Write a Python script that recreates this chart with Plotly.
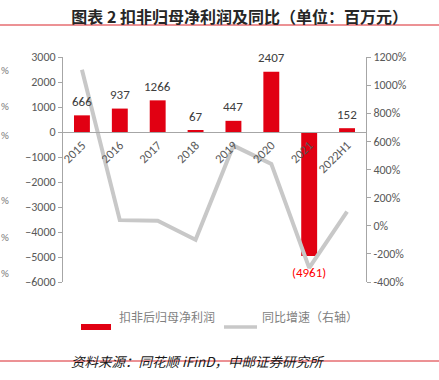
import plotly.graph_objects as go

categories = ["2015", "2016", "2017", "2018", "2019", "2020", "2021", "2022H1"]
profit = [666, 937, 1266, 67, 447, 2407, -4961, 152]
growth = [1110, 40, 35, -100, 570, 440, -300, 100]
left_ticks = [3000, 2000, 1000, 0, -1000, -2000, -3000, -4000, -5000, -6000]
right_ticks = [1200, 1000, 800, 600, 400, 200, 0, -200, -400]

W, H = 439, 380
L, R, T, B = 63, 73, 57, 98
pw, ph = W - L - R, H - T - B

def px_x(x):
    return (x - L) / pw

def px_y(y):
    return (H - B - y) / ph

FONT = "Calibri, Carlito, 'Noto Sans', 'Noto Sans CJK SC', sans-serif"
CJK = "'Noto Sans CJK SC', sans-serif"
GRAY = "#595959"
RED = "#E10012"
LINE = "#C8C8C8"

fig = go.Figure()
fig.add_trace(go.Bar(
    x=categories, y=profit, marker=dict(color=RED, line=dict(width=0)),
    width=0.42, yaxis="y", showlegend=False, hoverinfo="skip"))
fig.add_trace(go.Scatter(
    x=categories, y=growth, mode="lines", yaxis="y2",
    line=dict(color=LINE, width=4), showlegend=False, hoverinfo="skip"))

annotations = []
for i, v in enumerate(profit):
    annotations.append(dict(
        x=i, y=v, xref="x", yref="y",
        text=(f"({abs(v)})" if v < 0 else str(v)),
        showarrow=False, yshift=(-16 if v < 0 else 14),
        font=dict(family=FONT, size=13, color=("#FF0000" if v < 0 else "#404040"))))

# clipped "%" fragments at the far left edge
for yp in [62, 98, 135, 209, 246, 282]:
    annotations.append(dict(x=px_x(-1), y=px_y(yp), xref="paper", yref="paper",
                            text="%", showarrow=False, xanchor="left",
                            font=dict(family=FONT, size=11, color="#7F7F7F")))

# legend (manual)
annotations.append(dict(x=px_x(117), y=px_y(327), xref="paper", yref="paper",
                        text="扣非后归母净利润", showarrow=False, xanchor="left",
                        font=dict(family=CJK, size=12, color="#7F7F7F")))
annotations.append(dict(x=px_x(260), y=px_y(327), xref="paper", yref="paper",
                        text="同比增速（右轴）", showarrow=False, xanchor="left",
                        font=dict(family=CJK, size=12, color="#7F7F7F")))
# source
annotations.append(dict(x=px_x(198), y=px_y(373), xref="paper", yref="paper",
                        text="<i>资料来源：同花顺 iFinD，中邮证券研究所</i>", showarrow=False,
                        font=dict(family=CJK, size=13.5, color="#1A1A1A")))

shapes = [
    dict(type="line", xref="paper", yref="paper", x0=px_x(0), x1=px_x(W),
         y0=px_y(25), y1=px_y(25), line=dict(color="#D9252A", width=1)),
    dict(type="line", xref="paper", yref="paper", x0=px_x(0), x1=px_x(W),
         y0=px_y(361), y1=px_y(361), line=dict(color="#D9252A", width=1)),
    dict(type="rect", xref="paper", yref="paper", x0=px_x(81), x1=px_x(111),
         y0=px_y(330), y1=px_y(324), fillcolor=RED, line=dict(width=0)),
    dict(type="line", xref="paper", yref="paper", x0=px_x(224), x1=px_x(257),
         y0=px_y(327), y1=px_y(327), line=dict(color=LINE, width=3.5)),
]

zero_pos = (0 - left_ticks[-1]) / (left_ticks[0] - left_ticks[-1])

fig.update_layout(
    width=W, height=H,
    margin=dict(l=L, r=R, t=T, b=B, autoexpand=False),
    paper_bgcolor="white", plot_bgcolor="white",
    title=dict(text="<b>图表 2 扣非归母净利润及同比（单位：百万元）</b>",
               x=0.546, xanchor="center", y=1 - 17 / H, yanchor="middle",
               font=dict(family=CJK, size=16, color="#262626")),
    xaxis=dict(type="category", anchor="free", position=zero_pos,
               showline=True, linecolor="#A6A6A6", linewidth=1,
               ticks="", tickangle=-45, showgrid=False, zeroline=False,
               tickfont=dict(family=FONT, size=12.5, color=GRAY),
               range=[-0.5, len(categories) - 0.5]),
    yaxis=dict(range=[left_ticks[-1], left_ticks[0]], tickvals=left_ticks,
               showline=True, linecolor="#A6A6A6", linewidth=1,
               ticks="outside", ticklen=4, tickcolor="#A6A6A6",
               showgrid=False, zeroline=False,
               tickfont=dict(family=FONT, size=12, color=GRAY)),
    yaxis2=dict(range=[right_ticks[-1], right_ticks[0]], tickvals=right_ticks,
                ticktext=[f"{v}%" for v in right_ticks],
                overlaying="y", side="right",
                showline=True, linecolor="#A6A6A6", linewidth=1,
                ticks="outside", ticklen=4, tickcolor="#A6A6A6",
                showgrid=False, zeroline=False,
                tickfont=dict(family=FONT, size=12, color=GRAY)),
    annotations=annotations, shapes=shapes,
)

fig.write_html("out.html", config={"displayModeBar": False},
               post_script="document.body.style.margin='0px';")
